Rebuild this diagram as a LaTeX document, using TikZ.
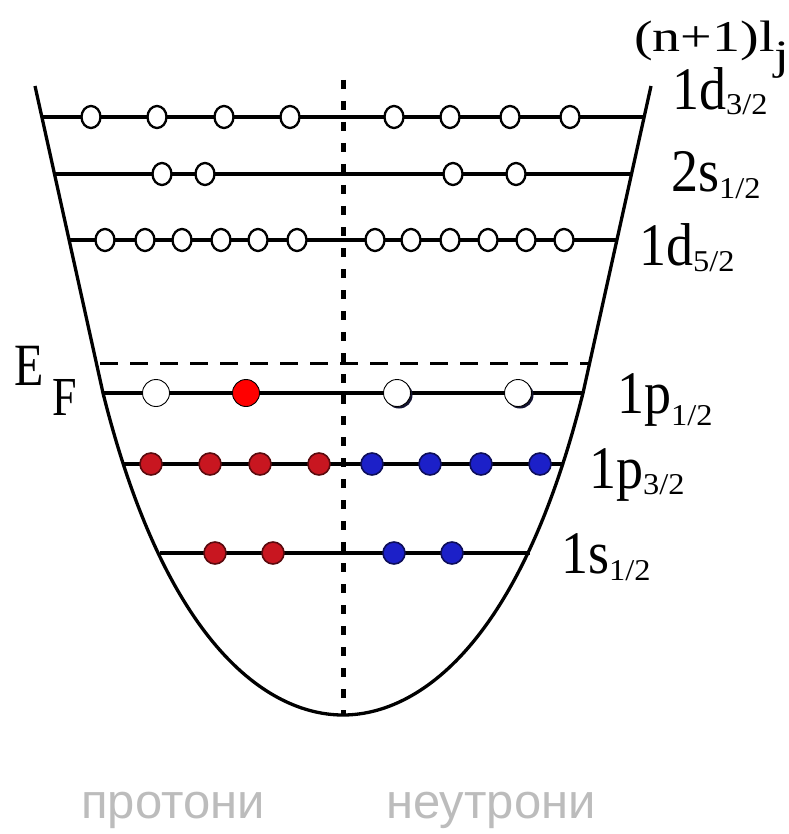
\documentclass[tikz,border=0pt]{standalone}
\usepackage{fontspec}
\setmainfont{Liberation Serif}
\newfontfamily\labsans{Liberation Sans}
\usetikzlibrary{shapes.geometric}
\definecolor{txtgray}{RGB}{188,188,188}
\definecolor{pred}{RGB}{200,22,32}
\definecolor{nblue}{RGB}{28,32,200}
\definecolor{shadowc}{RGB}{20,20,50}
% #1 main text, #2 subscript, #3 lowering of subscript
\newcommand{\lvltxt}[3]{\scalebox{1}[1.12]{\fontsize{54}{56}\selectfont #1\raisebox{-#3}{\scalebox{1.2}[1]{\fontsize{27}{29}\selectfont #2}}}}
\begin{document}
\begin{tikzpicture}[x=1pt,y=-1pt,
  lev/.style={line width=3.6pt},
  hole/.style={ellipse, draw=black, line width=2.3pt, fill=white, minimum width=19pt, minimum height=22pt, inner sep=0pt},
  protonst/.style={circle, draw=pred!45!black, line width=1.6pt, fill=pred, minimum size=22pt, inner sep=0pt},
  neutronst/.style={circle, draw=nblue!45!black, line width=1.6pt, fill=nblue, minimum size=22pt, inner sep=0pt},
  bighole/.style={circle, draw=black, line width=0.9pt, fill=white, minimum size=27pt, inner sep=0pt},
  bigred/.style={circle, draw=black, line width=0.9pt, fill=red, minimum size=27pt, inner sep=0pt},
  bigshadow/.style={circle, fill=shadowc, minimum size=27pt, inner sep=0pt},
  lab/.style={anchor=base west, inner sep=0pt}]
\useasboundingbox (0,0) rectangle (788,834);

% potential well
\coordinate (wtl) at (35,86);
\coordinate (wl) at (103,393);
\coordinate (wb) at (343,715);
\coordinate (wr) at (583,393);
\coordinate (wtr) at (651,86);
\draw[line width=3.3pt, line join=round] (wtl) -- (wl)
  .. controls (168,653) and (273,715) .. (wb)
  .. controls (413,715) and (518,653) .. (wr) -- (wtr);

% axis
\coordinate (axtop) at (343,80);
\coordinate (axbot) at (343,715);
\draw[line width=5pt, dash pattern=on 9pt off 12pt] (axtop) -- (axbot);

% levels
\draw[lev] (43,117) -- (644,117);
\draw[lev] (55,174) -- (631,174);
\draw[lev] (69,240) -- (617,240);
\draw[line width=3pt, dash pattern=on 18pt off 12pt] (100,363) -- (588,363);
\draw[lev] (103,393) -- (583,393);
\draw[lev] (123,464) -- (563,464);
\draw[lev] (160,553) -- (530,553);

% 1d3/2
\foreach \x [count=\i] in {91,157,224,290,394,450,510,570}
  \node[hole] (a\i) at (\x,117) {};
% 2s1/2
\foreach \x [count=\i] in {162,205,453,516}
  \node[hole] (b\i) at (\x,174) {};
% 1d5/2
\foreach \x [count=\i] in {105,145,182,221,258,297,375,411,450,488,526,564}
  \node[hole] (c\i) at (\x,240) {};
% 1p1/2
\node[bighole] (d1) at (156,393) {};
\node[bigred] (d2) at (246,393) {};
\node[bigshadow] (d3s) at (399,395) {};
\node[bighole] (d3) at (397,393) {};
\node[bigshadow] (d4s) at (520,395) {};
\node[bighole] (d4) at (518,393) {};
% 1p3/2
\foreach \x [count=\i] in {151,210,260,319}
  \node[protonst] (e\i) at (\x,464) {};
\foreach \x [count=\i] in {372,430,481,540}
  \node[neutronst] (f\i) at (\x,464) {};
% 1s1/2
\foreach \x [count=\i] in {215,273}
  \node[protonst] (g\i) at (\x,553) {};
\foreach \x [count=\i] in {394,452}
  \node[neutronst] (h\i) at (\x,553) {};

% labels
\node[lab] (tnl) at (634,52) {\scalebox{1.4}[1.1]{\fontsize{40}{42}\selectfont (n+1)l\raisebox{-16pt}{\fontsize{38}{40}\selectfont j}}};
\node[lab] (l1) at (672,110) {\lvltxt{1d}{3/2}{4pt}};
\node[lab] (l2) at (671,192) {\lvltxt{2s}{1/2}{6pt}};
\node[lab] (l3) at (639,265) {\lvltxt{1d}{5/2}{6pt}};
\node[lab] (l4) at (617,413) {\lvltxt{1p}{1/2}{11pt}};
\node[lab] (l5) at (589,488) {\lvltxt{1p}{3/2}{6pt}};
\node[lab] (l6) at (561,573) {\lvltxt{1s}{1/2}{7pt}};
\node[lab] (ef) at (14,385) {\scalebox{1}[1.25]{\fontsize{48}{50}\selectfont E}};
\node[lab] (ff) at (52,415) {\scalebox{1}[1.25]{\fontsize{44}{46}\selectfont F}};

\node[lab, text=txtgray] (prot) at (81,818) {\labsans\fontsize{49}{51}\selectfont протони};
\node[lab, text=txtgray] (neut) at (386,818) {\labsans\fontsize{49}{51}\selectfont неутрони};
\end{tikzpicture}
\end{document}
